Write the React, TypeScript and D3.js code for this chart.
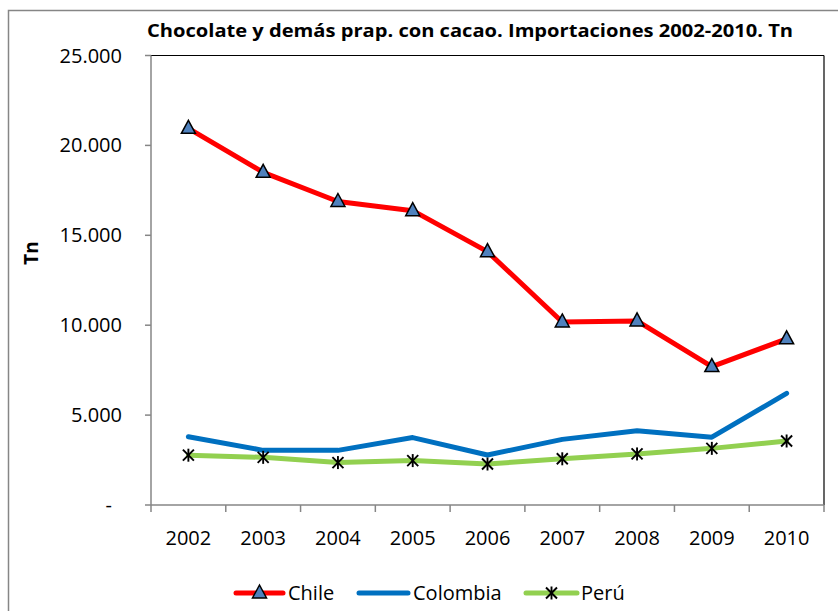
import React from "react";
import * as d3 from "d3";

const years = ["2002", "2003", "2004", "2005", "2006", "2007", "2008", "2009", "2010"];
const chile = [20950, 18500, 16880, 16370, 14090, 10180, 10240, 7700, 9240];
const colombia = [3800, 3040, 3040, 3750, 2780, 3650, 4130, 3770, 6210];
const peru = [2770, 2650, 2360, 2470, 2280, 2570, 2840, 3150, 3560];
const yTicks = [0, 5000, 10000, 15000, 20000, 25000];
const title = "Chocolate y demás prap. con cacao.  Importaciones 2002-2010. Tn";
const yLabel = "Tn";
const seriesNames = ["Chile", "Colombia", "Perú"];

const W = 838, H = 611;
const L = 151, R = 824, T = 55.5, B = 505;
const FONT = "'Open Sans', 'Noto Sans', sans-serif";

const RED = "#FF0000", BLUE = "#0070C0", GREEN = "#92D050", TRI = "#4F81BD";

function Triangle({ x, y }: { x: number; y: number }) {
  const s = 7;
  return (
    <path
      d={`M${x},${y - s - 1} L${x + s},${y + s - 2} L${x - s},${y + s - 2} Z`}
      fill={TRI}
      stroke="#000"
      strokeWidth={1.5}
      strokeLinejoin="miter"
    />
  );
}

function Star({ x, y }: { x: number; y: number }) {
  const s = 5.5;
  return (
    <g stroke="#000" strokeWidth={1.9}>
      <line x1={x - s} y1={y - s} x2={x + s} y2={y + s} />
      <line x1={x - s} y1={y + s} x2={x + s} y2={y - s} />
      <line x1={x} y1={y - s - 1} x2={x} y2={y + s + 1} />
    </g>
  );
}

export default function App() {
  const x = d3.scaleBand<string>().domain(years).range([L, R]).padding(0);
  const y = d3.scaleLinear().domain([0, 25000]).range([B, T]);
  const cx = (d: string) => (x(d) as number) + x.bandwidth() / 2;
  const line = d3
    .line<number>()
    .x((_, i) => cx(years[i]))
    .y((v) => y(v));
  const fmt = (v: number) => (v === 0 ? "-" : d3.format(",")(v).replace(/,/g, "."));
  const boundaries = d3.range(years.length + 1).map((i) => L + i * x.bandwidth());

  const legendY = 593;
  return (
    <svg
      width={W}
      height={H}
      style={{ position: "absolute", left: 0, top: 0, display: "block", background: "#fff" }}
      fontFamily={FONT}
    >
      <rect x={0} y={0} width={W} height={H} fill="#fff" />
      <rect x={8.5} y={10.5} width={840} height={640} fill="none" stroke="#868686" strokeWidth={1.5} />

      <text
        x={470}
        y={36.5}
        textAnchor="middle"
        fontWeight="bold"
        fontSize={18}
        textLength={646}
        lengthAdjust="spacingAndGlyphs"
        fill="#000"
      >
        {title}
      </text>

      {/* plot frame */}
      <line x1={L} y1={T} x2={R} y2={T} stroke="#000" strokeWidth={1.2} />
      <line x1={R} y1={T} x2={R} y2={B} stroke="#000" strokeWidth={1.2} />
      <line x1={L} y1={T} x2={L} y2={B} stroke="#868686" strokeWidth={1.5} />
      <line x1={L} y1={B} x2={R} y2={B} stroke="#868686" strokeWidth={1.5} />

      {yTicks.map((t) => (
        <g key={t}>
          <line x1={L - 6} x2={L} y1={y(t)} y2={y(t)} stroke="#868686" strokeWidth={1.5} />
          <text x={t === 0 ? 112 : 122} y={y(t) + 7} textAnchor="end" fontSize={20} fill="#000">
            {fmt(t)}
          </text>
        </g>
      ))}
      {boundaries.map((b, i) => (
        <line key={i} x1={b} x2={b} y1={B} y2={B + 7} stroke="#868686" strokeWidth={1.5} />
      ))}
      {years.map((yr) => (
        <text key={yr} x={cx(yr)} y={545} textAnchor="middle" fontSize={20} fill="#000">
          {yr}
        </text>
      ))}

      <text
        transform={`translate(38,253) rotate(-90)`}
        textAnchor="middle"
        fontWeight="bold"
        fontSize={19}
        fill="#000"
      >
        {yLabel}
      </text>

      <path d={line(colombia) as string} fill="none" stroke={BLUE} strokeWidth={5} strokeLinejoin="round" strokeLinecap="round" />
      <path d={line(peru) as string} fill="none" stroke={GREEN} strokeWidth={5} strokeLinejoin="round" strokeLinecap="round" />
      <path d={line(chile) as string} fill="none" stroke={RED} strokeWidth={5} strokeLinejoin="round" strokeLinecap="round" />
      {peru.map((v, i) => (
        <Star key={"p" + i} x={cx(years[i])} y={y(v)} />
      ))}
      {chile.map((v, i) => (
        <Triangle key={"c" + i} x={cx(years[i])} y={y(v)} />
      ))}

      {/* legend */}
      <line x1={236} x2={283} y1={legendY} y2={legendY} stroke={RED} strokeWidth={5} strokeLinecap="round" />
      <Triangle x={259.5} y={legendY} />
      <text x={288} y={legendY + 7} fontSize={20} fill="#000">{seriesNames[0]}</text>
      <line x1={359} x2={408} y1={legendY} y2={legendY} stroke={BLUE} strokeWidth={5} strokeLinecap="round" />
      <text x={413} y={legendY + 7} fontSize={20} fill="#000">{seriesNames[1]}</text>
      <line x1={526} x2={577} y1={legendY} y2={legendY} stroke={GREEN} strokeWidth={5} strokeLinecap="round" />
      <Star x={551.5} y={legendY} />
      <text x={581} y={legendY + 7} fontSize={20} fill="#000">{seriesNames[2]}</text>
    </svg>
  );
}
